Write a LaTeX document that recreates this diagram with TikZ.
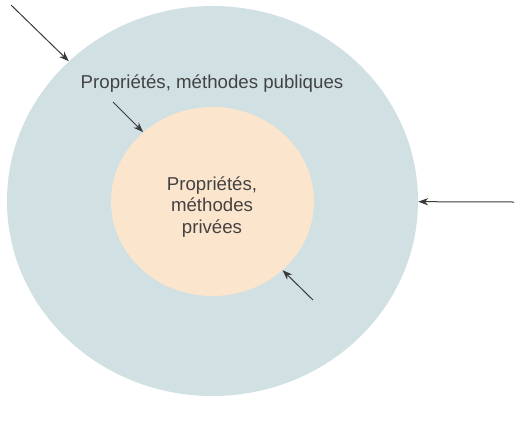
\documentclass[tikz,border=0pt]{standalone}
\usepackage{fontspec}
\setmainfont{Liberation Sans}
\usetikzlibrary{shapes.geometric,arrows.meta}
\definecolor{outerfill}{HTML}{D0E0E3}
\definecolor{innerfill}{HTML}{FCE5CD}
\definecolor{txt}{HTML}{434343}
\definecolor{arr}{HTML}{3A3A3A}
\begin{document}
\begin{tikzpicture}[x=0.75pt,y=-0.75pt,
  blob/.style={ellipse,draw=none,inner sep=0pt},
  lbl/.style={text=txt,font=\fontsize{14pt}{16.2pt}\selectfont,align=center,inner sep=0pt},
  pointer/.style={draw=arr,line width=0.75pt,-{Stealth[length=7.5pt,width=5.5pt]}}]
\useasboundingbox (0,0) rectangle (530,425);
\node[blob,fill=outerfill,minimum width=411*0.75pt,minimum height=390*0.75pt] (outer) at (212.5,201) {};
\node[blob,fill=innerfill,minimum width=203*0.75pt,minimum height=189*0.75pt] (inner) at (212.5,201.5) {};
\node[lbl] (pub) at (212,84) {Propriétés, méthodes publiques};
\node[lbl] (priv) at (212,207) {Propriétés,\\méthodes\\privées};
\coordinate (t1) at (11,5);
\coordinate (t2) at (113,102);
\coordinate (t3) at (313,300);
\coordinate (t4) at (514,202);
\draw[pointer] (t1) -- (outer);
\draw[pointer] (t2) -- (inner);
\draw[pointer] (t3) -- (inner);
\draw[pointer] (t4) -- (outer);
\end{tikzpicture}
\end{document}
